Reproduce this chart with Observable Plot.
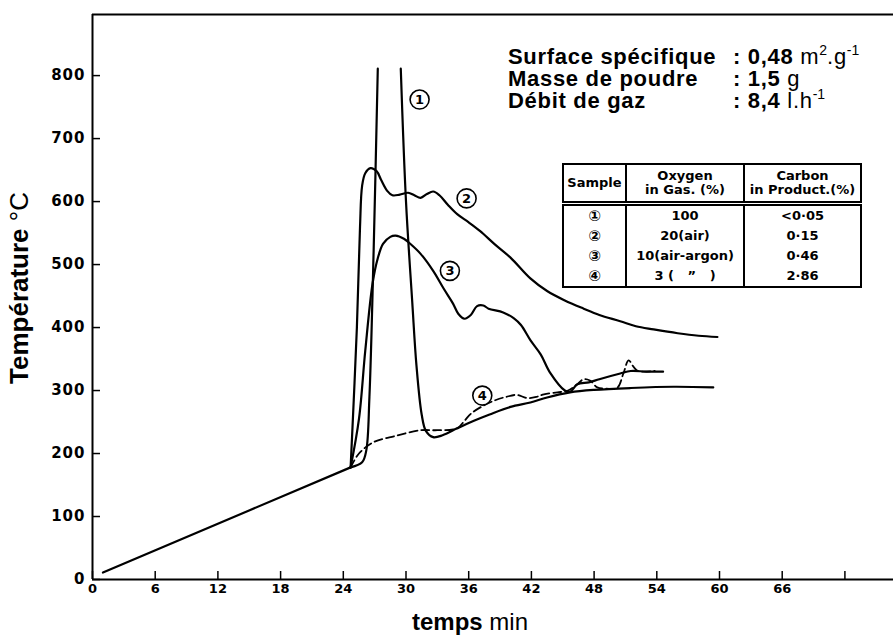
<!DOCTYPE html>
<html>
<head>
<meta charset="utf-8">
<script src="https://cdn.jsdelivr.net/npm/d3@7"></script>
<script src="https://cdn.jsdelivr.net/npm/@observablehq/plot@0.6"></script>
<style>
  html, body { margin: 0; padding: 0; background: #fff; }
  #wrap { position: relative; width: 893px; height: 639px; overflow: hidden; font-family: "Liberation Sans", Arial, sans-serif; }
  .ann { position: absolute; font-size: 22px; color: #000; white-space: nowrap; line-height: 20px; letter-spacing: 0.7px; }
  .ann b { font-weight: bold; }
  .ann sup { font-size: 14px; vertical-align: 9px; line-height: 0; letter-spacing: 0; }
  #tbl { position: absolute; left: 562px; top: 163px; border-collapse: collapse; border: 2px solid #000; table-layout: fixed;
         font-family: "DejaVu Sans", sans-serif; font-weight: bold; font-size: 13px; line-height: 1.1; }
  #tbl td, #tbl th { border-left: 2px solid #000; border-right: 2px solid #000; padding: 0 2px; text-align: center; font-weight: bold; white-space: nowrap; overflow: hidden; }
  #tbl thead th { border-bottom: 5px double #000; height: 36px; }
  #tbl tbody td { height: 20px; }
  #tbl tbody td.s { font-size: 15px; }
  #ylab { position: absolute; left: 19px; top: 288px; transform: translate(-50%, -50%) rotate(-90deg); font-size: 26px; line-height: 1; letter-spacing: 0; }
  #xlab { position: absolute; left: 470px; top: 622px; transform: translate(-50%, -50%); font-size: 24px; line-height: 1; letter-spacing: 0; }
</style>
</head>
<body>
<div id="wrap"></div>
<script>
// ---- data ----
const xTicks = [0, 6, 12, 18, 24, 30, 36, 42, 48, 54, 60, 66, 72];
const xTickLabels = ["0", "6", "12", "18", "24", "30", "36", "42", "48", "54", "60", "66", ""];
const yTicks = [0, 100, 200, 300, 400, 500, 600, 700, 800];
const xDomain = [0, 76.65];
const yDomain = [0, 897];

// common heating ramp
const ramp = [[1.0, 11], [24.7, 178]];

// sample 1 : 100 % O2 (spike, off-scale peak -> gap)
const curve1 = [[24.7, 178], [25.8, 186], [26.2, 205], [26.5, 290], [26.9, 520], [27.3, 811], [28.4, NaN],
  [29.5, 811], [30.0, 600], [30.6, 440], [31.0, 340], [31.5, 262], [31.9, 236], [32.6, 226], [33.5, 229],
  [34.9, 240], [36.5, 252], [38.0, 262], [40.0, 274], [41.9, 281], [43.5, 289], [45.7, 297], [48.0, 301],
  [51.5, 304], [55.6, 306], [59.4, 305]];

// sample 2 : 20 % O2 (air)
const curve2 = [[24.7, 178], [25.0, 285], [25.3, 400], [25.6, 560], [25.8, 625], [26.1, 645], [26.6, 653],
  [27.2, 648], [27.6, 635], [28.2, 617], [28.7, 610], [29.4, 611], [30.2, 614], [30.8, 610], [31.4, 606],
  [32.0, 612], [32.6, 616], [33.2, 610], [34.0, 595], [34.9, 580], [36.0, 567], [37.1, 553], [38.5, 532],
  [40.0, 511], [41.9, 478], [43.5, 458], [45.2, 443], [47.0, 430], [48.5, 420], [50.5, 410], [52.0, 402],
  [53.7, 397], [56.0, 391], [58.0, 387], [59.8, 385]];

// sample 3 : 10 % O2 (air-argon)
const curve3 = [[24.7, 178], [25.5, 255], [26.1, 363], [26.8, 470], [27.3, 510], [27.8, 533], [28.5, 544],
  [29.0, 546], [29.8, 541], [30.4, 533], [31.4, 517], [32.6, 490], [33.6, 462], [34.5, 438], [35.0, 422],
  [35.6, 414], [36.2, 420], [36.8, 434], [37.4, 435], [37.9, 430], [39.3, 424], [40.3, 415], [41.0, 404],
  [41.9, 380], [42.9, 357], [43.8, 328], [45.2, 300], [45.7, 298], [46.4, 310], [47.5, 313], [48.5, 318],
  [50.5, 327], [51.5, 331], [53.0, 330], [54.6, 330]];

// sample 4 : 3 % O2 (dashed)
const curve4 = [[24.7, 178], [25.5, 200], [26.9, 218], [29.0, 228], [31.4, 237], [33.0, 237], [34.9, 240],
  [35.6, 252], [36.2, 263], [37.4, 276], [38.6, 285], [39.6, 290], [40.6, 293], [41.6, 288], [42.5, 290],
  [43.2, 294], [44.5, 297], [45.5, 300], [46.4, 310], [47.0, 318], [47.6, 316], [48.3, 305], [49.2, 303],
  [50.2, 304], [50.8, 327], [51.3, 348], [51.8, 337], [52.2, 331], [53.8, 331]];

// curve labels
const labelNames = ["1", "2", "3", "4"];
const labelX = [31.3, 35.8, 34.2, 37.3];
const labelY = [762, 605, 490, 292];

// table
const tableHeader = ["Sample", "Oxygen<br>in Gas. (%)", "Carbon<br>in Product.(%)"];
const tableColWidths = [63, 118, 117];
const tableSample = ["①", "②", "③", "④"];
const tableOxygen = ["100", "20(air)", "10(air-argon)", "3 (&nbsp;&nbsp;&nbsp;\u201D&nbsp;&nbsp;&nbsp;)"];
const tableCarbon = ["<0·05", "0·15", "0·46", "2·86"];

// ---- build chart ----
const toObj = (arr) => arr.map(([x, y]) => ({x, y}));
const labels = labelNames.map((n, i) => ({n, x: labelX[i], y: labelY[i]}));

const lineStyle = {x: "x", y: "y", stroke: "black", strokeWidth: 2.2, curve: "catmull-rom"};

const chart = Plot.plot({
  width: 893,
  height: 639,
  marginLeft: 92,
  marginRight: 0,
  marginTop: 14,
  marginBottom: 60,
  x: {domain: xDomain},
  y: {domain: yDomain},
  style: {background: "white", color: "black", fontFamily: "DejaVu Sans, sans-serif"},
  marks: [
    Plot.axisX(xTicks, {tickSize: -8, tickPadding: 12, strokeWidth: 1.5, fontSize: 13, fontWeight: "bold",
      tickFormat: (d) => xTickLabels[xTicks.indexOf(d)], label: null}),
    Plot.axisY(yTicks, {tickSize: -8, tickPadding: 15, strokeWidth: 1.5, fontSize: 15, fontWeight: "bold", label: null}),
    Plot.ruleY([yDomain[0]], {stroke: "black", strokeWidth: 2}),
    Plot.ruleY([yDomain[1]], {stroke: "black", strokeWidth: 2}),
    Plot.ruleX([xDomain[0]], {stroke: "black", strokeWidth: 2}),
    Plot.line(toObj(ramp), {...lineStyle}),
    Plot.line(toObj(curve1), {...lineStyle}),
    Plot.line(toObj(curve2), {...lineStyle}),
    Plot.line(toObj(curve3), {...lineStyle}),
    Plot.line(toObj(curve4), {...lineStyle, strokeWidth: 1.8, strokeDasharray: "8,4"}),
    Plot.dot(labels, {x: "x", y: "y", r: 9.5, stroke: "black", strokeWidth: 1.6, fill: "white"}),
    Plot.text(labels, {x: "x", y: "y", text: "n", fontSize: 13, fontWeight: "bold", fill: "black"})
  ]
});

// wider, rounder y tick labels like the reference
d3.select(chart).selectAll('g[aria-label="y-axis tick label"] text').attr("letter-spacing", "1px");

const wrap = document.getElementById("wrap");
wrap.appendChild(chart);

// annotations (HTML text overlay)
const ann = [
  {top: 47, label: "Surface spécifique", value: "<b>0,48</b> m<sup>2</sup>.g<sup>-1</sup>"},
  {top: 69, label: "Masse de poudre", value: "<b>1,5</b> g"},
  {top: 91, label: "Débit de gaz", value: "<b>8,4</b> l.h<sup>-1</sup>"}
];
for (const a of ann) {
  const l = document.createElement("div");
  l.className = "ann";
  l.style.left = "508px"; l.style.top = a.top + "px";
  l.innerHTML = "<b>" + a.label + "</b>";
  wrap.appendChild(l);
  const v = document.createElement("div");
  v.className = "ann";
  v.style.left = "733px"; v.style.top = a.top + "px";
  v.innerHTML = "<b>: </b>" + a.value;
  wrap.appendChild(v);
}

// table
const tbl = document.createElement("table");
tbl.id = "tbl";
let html = "<colgroup>" + tableColWidths.map((w) => '<col style="width:' + w + 'px">').join("") + "</colgroup>";
html += "<thead><tr>" + tableHeader.map((h) => "<th>" + h + "</th>").join("") + "</tr></thead><tbody>";
for (let i = 0; i < tableSample.length; i++) {
  html += '<tr><td class="s">' + tableSample[i] + "</td><td>" + tableOxygen[i] + "</td><td>" + tableCarbon[i].replace("<", "&lt;") + "</td></tr>";
}
html += "</tbody>";
tbl.innerHTML = html;
wrap.appendChild(tbl);

// axis titles
const ylab = document.createElement("div");
ylab.id = "ylab"; ylab.className = "ann";
ylab.innerHTML = "<b>Température</b> °C";
wrap.appendChild(ylab);
const xlab = document.createElement("div");
xlab.id = "xlab"; xlab.className = "ann";
xlab.innerHTML = "<b>temps</b> min";
wrap.appendChild(xlab);
</script>
</body>
</html>
